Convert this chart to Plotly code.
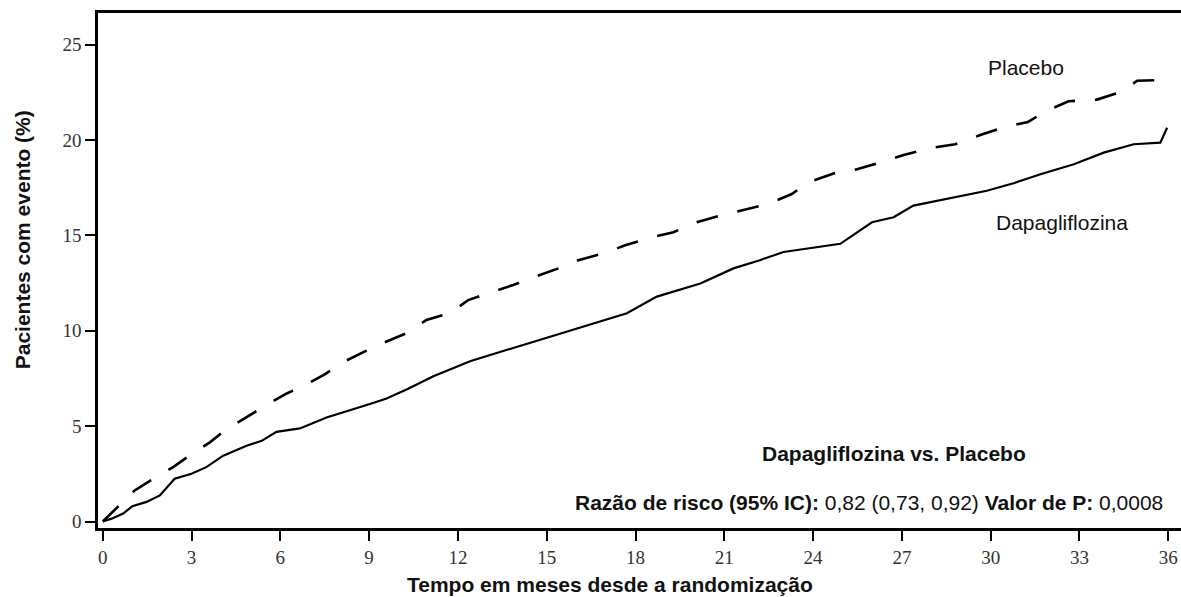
import plotly.graph_objects as go

# Kaplan-Meier curves (months, % of patients with event)
dapa_months = [0, 0.3, 0.69, 1.0, 1.48, 1.93, 2.43, 3.0, 3.5, 4.07, 4.86, 5.37, 5.87,
               6.66, 7.56, 8.24, 9.0, 9.59, 10.3, 11.17, 12.41, 13.87, 15.68, 16.7,
               17.71, 18.72, 20.19, 21.31, 22.2, 23.0, 23.57, 24.92, 25.99, 26.72,
               27.39, 28.75, 29.87, 30.8, 31.68, 32.81, 33.82, 34.83, 35.73, 35.96]
dapa_pct = [0, 0.15, 0.42, 0.8, 1.03, 1.37, 2.24, 2.5, 2.85, 3.45, 3.97, 4.23, 4.7,
            4.88, 5.45, 5.8, 6.15, 6.45, 6.95, 7.62, 8.4, 9.1, 9.96, 10.45,
            10.92, 11.79, 12.48, 13.27, 13.7, 14.13, 14.25, 14.56, 15.69, 15.95,
            16.56, 17.0, 17.34, 17.75, 18.21, 18.73, 19.34, 19.78, 19.86, 20.64]

placebo_months = [0, 0.57, 1.08, 1.76, 2.38, 3.0, 3.62, 4.18, 4.82, 5.53, 6.2, 6.77,
                  7.5, 8.18, 8.86, 9.59, 10.27, 10.94, 11.73, 12.35, 13.08, 13.87,
                  14.6, 15.45, 16.07, 16.97, 17.65, 18.55, 19.28, 20.07, 20.86, 21.76,
                  22.49, 23.28, 23.84, 24.69, 25.48, 26.38, 27.06, 28.07, 28.8, 29.65,
                  30.38, 31.26, 31.85, 32.63, 33.59, 34.44, 34.95, 35.9, 36.02]
placebo_pct = [0, 0.85, 1.63, 2.29, 2.85, 3.54, 4.15, 4.84, 5.45, 6.1, 6.7, 7.1,
               7.71, 8.4, 8.92, 9.44, 9.88, 10.57, 10.92, 11.61, 12.0, 12.4,
               12.83, 13.3, 13.7, 14.08, 14.48, 14.9, 15.17, 15.69, 16.04, 16.39,
               16.65, 17.17, 17.78, 18.25, 18.47, 18.87, 19.22, 19.6, 19.78, 20.26,
               20.64, 20.95, 21.5, 22.03, 22.12, 22.55, 23.11, 23.15, 23.45]

x_ticks = list(range(0, 37, 3))
y_ticks = [0, 5, 10, 15, 20, 25]

INK = "#111111"
SANS = "Liberation Sans, Arial, sans-serif"
SERIF = "Liberation Serif, Times New Roman, serif"

fig = go.Figure()
fig.add_trace(go.Scatter(x=placebo_months, y=placebo_pct, mode="lines", name="Placebo",
                         line=dict(color="black", width=2.6, dash="22px,20px")))
fig.add_trace(go.Scatter(x=dapa_months, y=dapa_pct, mode="lines", name="Dapagliflozina",
                         line=dict(color="black", width=2.2)))

axis_common = dict(showgrid=False, zeroline=False, showline=True, linecolor="black",
                   linewidth=2.5, ticks="outside", ticklen=10, tickwidth=2,
                   tickcolor="black", tickfont=dict(family=SERIF, size=19, color="#333"))
fig.update_xaxes(range=[-0.16, 36.43], tickvals=x_ticks, mirror=True, **axis_common)
fig.update_yaxes(range=[-0.34, 26.66], tickvals=y_ticks, **axis_common)

notes = [
    dict(x=31.19, y=23.81, xref="x", yref="y", text="Placebo", showarrow=False,
         font=dict(family=SANS, size=21, color=INK)),
    dict(x=32.4, y=15.7, xref="x", yref="y", text="Dapagliflozina", showarrow=False,
         font=dict(family=SANS, size=21, color=INK)),
    dict(x=26.75, y=3.55, xref="x", yref="y", text="<b>Dapagliflozina vs. Placebo</b>",
         showarrow=False, font=dict(family=SANS, size=21, color=INK)),
    dict(x=35.89, y=0.98, xref="x", yref="y", xanchor="right",
         text="<b>Razão de risco (95% IC):</b> 0,82 (0,73, 0,92) <b>Valor de P:</b> 0,0008",
         showarrow=False, font=dict(family=SANS, size=21, color=INK)),
    dict(x=0.473, y=-0.11, xref="paper", yref="paper", xanchor="center", yanchor="middle",
         text="<b>Tempo em meses desde a randomização</b>", showarrow=False,
         font=dict(family=SANS, size=21, color=INK)),
    dict(x=-0.07, y=0.559, xref="paper", yref="paper", xanchor="center",
         yanchor="middle", textangle=-90,
         text="<b>Pacientes com evento (%)</b>", showarrow=False,
         font=dict(family=SANS, size=21, color=INK)),
]

fig.update_layout(width=1181, height=597, showlegend=False, annotations=notes,
                  plot_bgcolor="white", paper_bgcolor="white",
                  margin=dict(l=98, r=0, t=13, b=69))

# drop the default page margin so the fixed-size figure fills the window exactly
fig.write_html("out.html", config={"displayModeBar": False},
               post_script="document.body.style.margin='0';"
               "document.documentElement.style.overflow='hidden';")
